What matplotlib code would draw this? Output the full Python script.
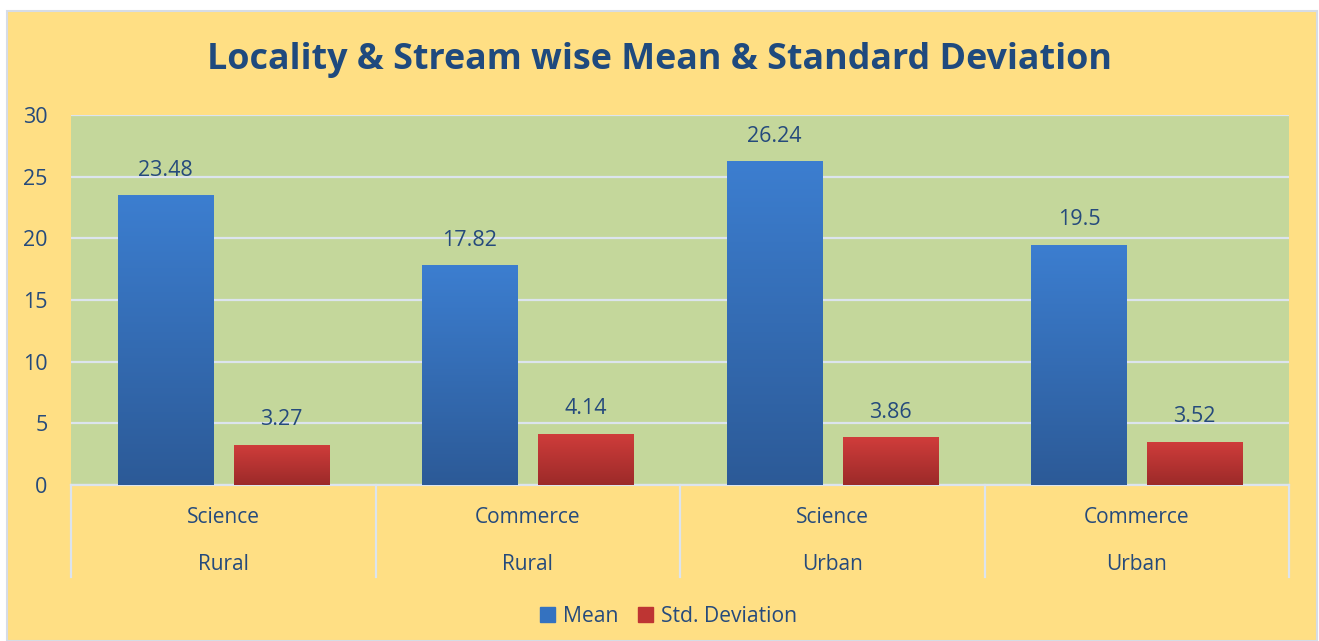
import numpy as np
import matplotlib
matplotlib.use('Agg')
import matplotlib.pyplot as plt
import matplotlib.patches as mpatch
from matplotlib.colors import LinearSegmentedColormap

# data
streams = ['Science', 'Commerce', 'Science', 'Commerce']
localities = ['Rural', 'Rural', 'Urban', 'Urban']
mean_vals = [23.48, 17.82, 26.24, 19.5]
sd_vals = [3.27, 4.14, 3.86, 3.52]
yticks = [0, 5, 10, 15, 20, 25, 30]

txt_col = '#254A7C'
plt.rcParams['font.family'] = ['Open Sans', 'DejaVu Sans']

fig = plt.figure(figsize=(13.19, 6.41), dpi=100)
fig.patch.set_facecolor('white')
# yellow chart frame
fig.add_artist(mpatch.Rectangle((7/1319, 0), 1310/1319, 1 - 11/641,
                                transform=fig.transFigure, facecolor='#FFDF84',
                                edgecolor='#D6DCE6', lw=1.5, zorder=0))

ax = fig.add_axes([71/1319, 1 - 485/641, 1218/1319, 370/641])
ax.set_facecolor('#C4D79B')

x = np.arange(len(streams))
w = 0.312
off = 0.19

blue_cm = LinearSegmentedColormap.from_list('b', ['#2C5A97', '#3C7ED0'])
red_cm = LinearSegmentedColormap.from_list('r', ['#9C2A29', '#D03D3B'])
grad = np.linspace(0, 1, 256).reshape(-1, 1)

def grad_bars(xs, vals, cmap):
    bars = ax.bar(xs, vals, w, color='none', edgecolor='none', zorder=3)
    for b in bars:
        bx, by = b.get_xy()
        im = ax.imshow(grad, cmap=cmap, origin='lower', aspect='auto',
                       extent=(bx, bx + b.get_width(), by, by + b.get_height()),
                       zorder=3)
        im.set_clip_path(b)
    return bars

b1 = grad_bars(x - off, mean_vals, blue_cm)
b2 = grad_bars(x + off, sd_vals, red_cm)

for bars, vals in ((b1, mean_vals), (b2, sd_vals)):
    for b, v in zip(bars, vals):
        ax.annotate(f'{v:g}', (b.get_x() + b.get_width() / 2, v),
                    xytext=(0, 18), textcoords='offset points',
                    ha='center', va='center', fontsize=15.5, color=txt_col)

ax.set_xlim(-0.5, len(streams) - 0.5)
ax.set_ylim(0, 30)
ax.set_yticks(yticks)
ax.yaxis.grid(True, color='#DCE4EE', lw=1.6)
ax.set_axisbelow(True)
ax.tick_params(axis='y', length=0, pad=17, labelsize=15.5, labelcolor=txt_col)
ax.set_xticks([])
for s in ['top', 'right', 'left']:
    ax.spines[s].set_visible(False)
ax.spines['bottom'].set_color('#DCE4EE')
ax.spines['bottom'].set_linewidth(1.6)

# two-level category axis
tr = ax.get_xaxis_transform()
for xb in np.arange(len(streams) + 1) - 0.5:
    ax.plot([xb, xb], [0, -0.2486], transform=tr, color='#DCE4EE', lw=1.6,
            clip_on=False)
for i in x:
    ax.text(i, -0.088, streams[i], transform=tr, ha='center', va='center',
            fontsize=15, color=txt_col)
    ax.text(i, -0.215, localities[i], transform=tr, ha='center', va='center',
            fontsize=15, color=txt_col)

fig.text(0.5, 1 - 60/641, 'Locality & Stream wise Mean & Standard Deviation',
         ha='center', va='center', fontsize=25.8, fontweight='bold', color='#1F4A7E')

handles = [mpatch.Patch(color='#3472C0', label='Mean'),
           mpatch.Patch(color='#BE3533', label='Std. Deviation')]
fig.legend(handles=handles, loc='center', bbox_to_anchor=(0.507, 1 - 616/641),
           ncol=2, frameon=False, fontsize=15.2, handlelength=0.7, handleheight=0.7,
           handletextpad=0.4, columnspacing=0.9, labelcolor=txt_col)

fig.savefig('out.png', dpi=100)
